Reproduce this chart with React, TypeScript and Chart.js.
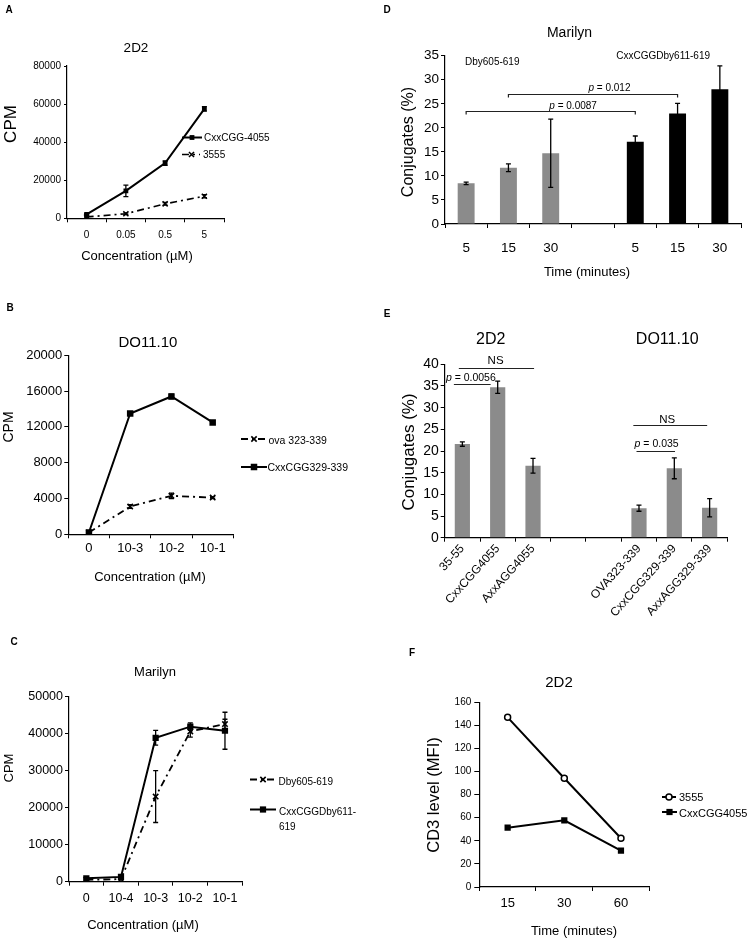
import React, { useEffect, useRef } from "react";
import { Chart, registerables } from "chart.js";

Chart.register(...registerables);

const FONT = "'Liberation Sans', Arial, Helvetica, sans-serif";

// ---------------- Panel A (2D2, CPM) ----------------
const aCategories = ["0", "0.05", "0.5", "5"];
const aCxxCGG4055 = [2100, 14400, 29000, 57500];
const aCxxCGG4055Err = [400, 3000, 1200, 1200];
const a3555 = [700, 2400, 7600, 11600];
const a3555Err = [300, 500, 700, 800];

// ---------------- Panel B (DO11.10, CPM) ----------------
const bCategories = ["0", "10-3", "10-2", "10-1"];
const bOva = [200, 3100, 4300, 4100];
const bOvaErr = [100, 200, 300, 100];
const bCxxCGG329 = [200, 13500, 15400, 12500];
const bCxxCGG329Err = [100, 200, 250, 200];

// ---------------- Panel C (Marilyn, CPM) ----------------
const cCategories = ["0", "10-4", "10-3", "10-2", "10-1"];
const cDby = [500, 700, 23000, 40600, 42600];
const cDbyErr = [200, 200, 7000, 1500, 1300];
const cCxxDby = [900, 1300, 38900, 41900, 40800];
const cCxxDbyErr = [300, 300, 2000, 1000, 5000];

// ---------------- Panel D (Marilyn, conjugates) ----------------
const dCategories = ["5", "15", "30", "", "5", "15", "30"];
const dDby = [8.45, 11.7, 14.7, null, null, null, null];
const dDbyErr = [0.25, 0.8, 7.1, 0, 0, 0, 0];
const dCxxDby = [null, null, null, null, 17.1, 23.0, 28.0];
const dCxxDbyErr = [0, 0, 0, 0, 1.2, 2.1, 4.9];
const dBrackets = [
  { from: 0, to: 4, value: 23.5, label: "p = 0.0087" },
  { from: 1, to: 5, value: 27.1, label: "p = 0.012" },
];

// ---------------- Panel E (conjugates) ----------------
const eCategories = ["35-55", "CxxCGG4055", "AxxAGG4055", "", "", "OVA323-339", "CxxCGG329-339", "AxxAGG329-339"];
const eValues = [21.6, 34.7, 16.6, null, null, 6.8, 16.0, 6.9];
const eErr = [0.5, 1.4, 1.7, 0, 0, 0.7, 2.4, 2.1];
const eBrackets = [
  { from: -0.1, to: 2.03, value: 39.2, label: "NS" },
  { from: -0.24, to: 0.8, value: 35.4, label: "p = 0.0056" },
  { from: 4.84, to: 6.93, value: 26.0, label: "NS" },
  { from: 4.93, to: 6.02, value: 20.1, label: "p = 0.035" },
];

// ---------------- Panel F (CD3 level) ----------------
const fCategories = ["15", "30", "60"];
const f3555 = [147, 94.2, 42.2];
const fCxxCGG4055 = [51.4, 57.8, 31.5];

// ================= helpers =================
type Frame = { x: number; y: number; w: number; h: number };
type Area = { L: number; T: number; R: number; B: number };

function fnt(size: number, bold = false, italic = false) {
  return `${italic ? "italic " : ""}${bold ? "bold " : ""}${size}px ${FONT}`;
}

function drawText(ctx: CanvasRenderingContext2D, t: any) {
  ctx.save();
  ctx.fillStyle = "#000";
  ctx.font = fnt(t.s, !!t.b);
  ctx.textBaseline = "middle";
  ctx.textAlign = t.align || "center";
  ctx.translate(t.x, t.y);
  if (t.r) ctx.rotate((t.r * Math.PI) / 180);
  ctx.fillText(t.t, 0, 0);
  ctx.restore();
}

function drawPText(ctx: CanvasRenderingContext2D, label: string, x: number, y: number, size: number) {
  ctx.save();
  ctx.fillStyle = "#000";
  ctx.textBaseline = "middle";
  ctx.textAlign = "left";
  const parts: [string, boolean][] = label.startsWith("p ") ? [["p", true], [label.slice(1), false]] : [[label, false]];
  let total = 0;
  parts.forEach(([s, it]) => {
    ctx.font = fnt(size, false, it);
    total += ctx.measureText(s).width;
  });
  let cx = x - total / 2;
  parts.forEach(([s, it]) => {
    ctx.font = fnt(size, false, it);
    ctx.fillText(s, cx, y);
    cx += ctx.measureText(s).width;
  });
  ctx.restore();
}

function drawMarker(ctx: CanvasRenderingContext2D, ds: any, x: number, y: number) {
  const style = ds.pointStyle || "circle";
  const r = ds.pointRadius ?? 3;
  ctx.save();
  ctx.setLineDash([]);
  ctx.lineWidth = ds.pointBorderWidth ?? 1;
  ctx.strokeStyle = ds.pointBorderColor || "#000";
  ctx.fillStyle = ds.pointBackgroundColor || "#000";
  if (style === "rect") {
    const h = r * Math.SQRT1_2;
    ctx.fillRect(x - h, y - h, 2 * h, 2 * h);
  } else if (style === "crossRot") {
    const h = r * Math.SQRT1_2;
    ctx.beginPath();
    ctx.moveTo(x - h, y - h);
    ctx.lineTo(x + h, y + h);
    ctx.moveTo(x + h, y - h);
    ctx.lineTo(x - h, y + h);
    ctx.stroke();
  } else {
    ctx.beginPath();
    ctx.arc(x, y, r, 0, Math.PI * 2);
    ctx.fill();
    ctx.stroke();
  }
  ctx.restore();
}

function makeOverlay(frame: Frame, cfg: any) {
  return {
    id: "overlay",
    afterDatasetsDraw(chart: any) {
      const ctx: CanvasRenderingContext2D = chart.ctx;
      chart.data.datasets.forEach((ds: any, di: number) => {
        if (!ds.errors) return;
        const meta = chart.getDatasetMeta(di);
        const ys = chart.scales[meta.yAxisID];
        meta.data.forEach((el: any, i: number) => {
          const v = ds.data[i];
          const e = ds.errors[i];
          if (v == null || !e) return;
          const x = el.x;
          const y1 = ys.getPixelForValue(v + e);
          const y2 = ys.getPixelForValue(v - e);
          const c = ds.errorCap ?? 3;
          ctx.save();
          ctx.strokeStyle = "#000";
          ctx.lineWidth = ds.errorWidth ?? 1.3;
          ctx.setLineDash([]);
          ctx.beginPath();
          ctx.moveTo(x, y1);
          ctx.lineTo(x, y2);
          ctx.moveTo(x - c, y1);
          ctx.lineTo(x + c, y1);
          ctx.moveTo(x - c, y2);
          ctx.lineTo(x + c, y2);
          ctx.stroke();
          ctx.restore();
        });
      });
    },
    afterDraw(chart: any) {
      const ctx: CanvasRenderingContext2D = chart.ctx;
      const xs = chart.scales.x;
      const ys = chart.scales.y;
      (cfg.brackets || []).forEach((b: any, i: number) => {
        const st = cfg.bracketStyles[i];
        const x1 = xs.getPixelForValue(b.from);
        const x2 = xs.getPixelForValue(b.to);
        const y = Math.round(ys.getPixelForValue(b.value)) + 0.5;
        ctx.save();
        ctx.strokeStyle = "#222";
        ctx.lineWidth = 1.2;
        ctx.beginPath();
        ctx.moveTo(x1, y + st.drop);
        ctx.lineTo(x1, y);
        ctx.lineTo(x2, y);
        ctx.lineTo(x2, y + st.drop);
        ctx.stroke();
        ctx.restore();
        drawPText(ctx, b.label, xs.getPixelForValue(st.labelAt), y - st.dy, st.size);
      });
      ctx.save();
      ctx.translate(-frame.x, -frame.y);
      (cfg.texts || []).forEach((t: any) => drawText(ctx, t));
      (cfg.legend || []).forEach((l: any) => {
        const ds = chart.data.datasets[l.ds];
        ctx.save();
        ctx.strokeStyle = ds.borderColor || "#000";
        ctx.lineWidth = ds.borderWidth ?? 2;
        ctx.setLineDash(ds.borderDash || []);
        ctx.beginPath();
        ctx.moveTo(l.x1, l.y);
        ctx.lineTo(l.x2, l.y);
        ctx.stroke();
        ctx.restore();
        drawMarker(ctx, ds, l.mx, l.y);
        const lines = l.lines || [ds.label];
        lines.forEach((s: string, k: number) =>
          drawText(ctx, { t: s, x: l.tx, y: l.ty + k * (l.lh || 14), s: l.s, align: "left" })
        );
      });
      ctx.restore();
    },
  };
}

function yScale(max: number, step: number, size: number, tickLen: number, pad: number, width: number) {
  return {
    min: 0,
    max,
    ticks: {
      stepSize: step,
      color: "#000",
      font: { size, family: FONT },
      padding: pad,
      callback: (v: any) => String(v),
    },
    grid: { drawOnChartArea: false, drawTicks: true, tickLength: tickLen, color: "#000", lineWidth: 1 },
    border: { display: true, color: "#000", width: 1.2 },
    afterFit: (s: any) => {
      s.width = width;
    },
  };
}

function xScale(size: number, tickLen: number, labelCenter: number, area: Area, height: number, rot = 0) {
  const pad = rot ? labelCenter : labelCenter - area.B - tickLen - (size * 1.2) / 2;
  return {
    type: "category",
    offset: true,
    ticks: {
      color: "#000",
      font: { size, family: FONT },
      padding: pad,
      autoSkip: false,
      maxRotation: rot,
      minRotation: rot,
    },
    grid: { offset: true, drawOnChartArea: false, drawTicks: true, tickLength: tickLen, color: "#000", lineWidth: 1 },
    border: { display: true, color: "#000", width: 1.2 },
    afterFit: (s: any) => {
      s.height = height;
    },
  };
}

function baseOptions(frame: Frame, area: Area, yW: number, xH: number, y: any, x: any) {
  return {
    responsive: false,
    maintainAspectRatio: false,
    animation: false,
    events: [],
    layout: {
      padding: {
        left: area.L - frame.x - yW,
        right: frame.x + frame.w - area.R,
        top: area.T - frame.y,
        bottom: frame.y + frame.h - area.B - xH,
      },
    },
    plugins: { legend: { display: false }, tooltip: { enabled: false }, title: { display: false } },
    scales: { x, y },
  };
}

// ================= panel configs =================
function configA() {
  const frame = { x: 0, y: 0, w: 374, h: 272 };
  const area = { L: 67, T: 66, R: 224, B: 218.3 };
  return {
    frame,
    config: {
      type: "line",
      data: {
        labels: aCategories,
        datasets: [
          {
            label: "CxxCGG-4055", data: aCxxCGG4055, errors: aCxxCGG4055Err, errorCap: 2.5,
            borderColor: "#000", borderWidth: 2, pointStyle: "rect", pointRadius: 3.4,
            pointBackgroundColor: "#000", pointBorderColor: "#000", pointBorderWidth: 0,
          },
          {
            label: "3555", data: a3555, errors: a3555Err, errorCap: 2.5,
            borderColor: "#000", borderWidth: 1.7, borderDash: [7, 4, 2, 4], pointStyle: "crossRot", pointRadius: 3.6,
            pointBorderColor: "#000", pointBorderWidth: 1.5, pointBackgroundColor: "#000",
          },
        ],
      },
      options: baseOptions(frame, area, 50, 30, yScale(80000, 20000, 10, 3, 3, 50), xScale(10, 4, 235, area, 30)),
      plugins: [
        makeOverlay(frame, {
          texts: [
            { t: "A", x: 9, y: 10, s: 10, b: true },
            { t: "2D2", x: 136, y: 48, s: 13.5 },
            { t: "CPM", x: 11.5, y: 124, s: 17, r: -90 },
            { t: "Concentration (µM)", x: 137, y: 256.5, s: 13 },
          ],
          legend: [
            { ds: 0, x1: 182, x2: 202, y: 137.5, mx: 192, tx: 204, ty: 138, s: 10 },
            { ds: 1, x1: 182, x2: 200, y: 154.5, mx: 191.5, tx: 203, ty: 155, s: 10 },
          ],
        }),
      ],
    },
  };
}

function configB() {
  const frame = { x: 0, y: 280, w: 374, h: 305 };
  const area = { L: 68.3, T: 355.3, R: 233.3, B: 534.3 };
  return {
    frame,
    config: {
      type: "line",
      data: {
        labels: bCategories,
        datasets: [
          {
            label: "ova 323-339", data: bOva, errors: bOvaErr, errorCap: 2.5,
            borderColor: "#000", borderWidth: 1.8, borderDash: [7, 4, 2, 4], pointStyle: "crossRot", pointRadius: 3.8,
            pointBorderColor: "#000", pointBorderWidth: 1.6, pointBackgroundColor: "#000",
          },
          {
            label: "CxxCGG329-339", data: bCxxCGG329, errors: bCxxCGG329Err, errorCap: 2.5,
            borderColor: "#000", borderWidth: 2, pointStyle: "rect", pointRadius: 4.6,
            pointBackgroundColor: "#000", pointBorderColor: "#000", pointBorderWidth: 0,
          },
        ],
      },
      options: baseOptions(frame, area, 55, 25, yScale(20000, 4000, 13, 4, 2, 55), xScale(13, 4, 548.3, area, 25)),
      plugins: [
        makeOverlay(frame, {
          texts: [
            { t: "B", x: 10, y: 308, s: 10, b: true },
            { t: "DO11.10", x: 148, y: 343, s: 15 },
            { t: "CPM", x: 9.5, y: 427, s: 14, r: -90 },
            { t: "Concentration (µM)", x: 150, y: 577, s: 13 },
          ],
          legend: [
            { ds: 0, x1: 241, x2: 268, y: 439, mx: 254, tx: 268.5, ty: 441.5, s: 10.5 },
            { ds: 1, x1: 241, x2: 267, y: 467, mx: 254, tx: 267.5, ty: 468, s: 10.5 },
          ],
        }),
      ],
    },
  };
}

function configC() {
  const frame = { x: 0, y: 585, w: 374, h: 357 };
  const area = { L: 69, T: 696.7, R: 242.3, B: 881.7 };
  return {
    frame,
    config: {
      type: "line",
      data: {
        labels: cCategories,
        datasets: [
          {
            label: "Dby605-619", data: cDby, errors: cDbyErr, errorCap: 2.5,
            borderColor: "#000", borderWidth: 1.8, borderDash: [7, 4, 2, 4], pointStyle: "crossRot", pointRadius: 3.8,
            pointBorderColor: "#000", pointBorderWidth: 1.6, pointBackgroundColor: "#000",
          },
          {
            label: "CxxCGGDby611-619", data: cCxxDby, errors: cCxxDbyErr, errorCap: 2.5,
            borderColor: "#000", borderWidth: 2, pointStyle: "rect", pointRadius: 4.4,
            pointBackgroundColor: "#000", pointBorderColor: "#000", pointBorderWidth: 0,
          },
        ],
      },
      options: baseOptions(frame, area, 55, 30, yScale(50000, 10000, 12.5, 4, 2, 55), xScale(12.5, 4, 899, area, 30)),
      plugins: [
        makeOverlay(frame, {
          texts: [
            { t: "C", x: 14, y: 642, s: 10, b: true },
            { t: "Marilyn", x: 155, y: 672, s: 13 },
            { t: "CPM", x: 9.5, y: 768, s: 13, r: -90 },
            { t: "Concentration (µM)", x: 143, y: 925.7, s: 13 },
          ],
          legend: [
            { ds: 0, x1: 250, x2: 277, y: 779.5, mx: 263, tx: 278.5, ty: 782, s: 10 },
            { ds: 1, x1: 250, x2: 276, y: 809.5, mx: 263, tx: 279, ty: 812.5, s: 10, lines: ["CxxCGGDby611-", "619"], lh: 14.5 },
          ],
        }),
      ],
    },
  };
}

function configD() {
  const frame = { x: 374, y: 0, w: 374, h: 290 };
  const area = { L: 445, T: 55.7, R: 741, B: 224 };
  return {
    frame,
    config: {
      type: "bar",
      data: {
        labels: dCategories,
        datasets: [
          {
            label: "Dby605-619", data: dDby, errors: dDbyErr, errorCap: 2.5,
            backgroundColor: "#8b8b8b", grouped: false, barPercentage: 0.4, categoryPercentage: 1,
          },
          {
            label: "CxxCGGDby611-619", data: dCxxDby, errors: dCxxDbyErr, errorCap: 2.5,
            backgroundColor: "#000", grouped: false, barPercentage: 0.4, categoryPercentage: 1,
          },
        ],
      },
      options: baseOptions(frame, area, 55, 40, yScale(35, 5, 13.5, 4, 2, 55), xScale(13.5, 4, 248.3, area, 40)),
      plugins: [
        makeOverlay(frame, {
          brackets: dBrackets,
          bracketStyles: [
            { labelAt: 2.53, dy: 5, drop: 3, size: 10 },
            { labelAt: 3.39, dy: 6.4, drop: 3, size: 10 },
          ],
          texts: [
            { t: "D", x: 387, y: 10, s: 10, b: true },
            { t: "Marilyn", x: 569.5, y: 33.3, s: 14 },
            { t: "Conjugates (%)", x: 409, y: 142, s: 16, r: -90 },
            { t: "Time (minutes)", x: 587, y: 272.3, s: 13 },
            { t: "Dby605-619", x: 465, y: 62, s: 10, align: "left" },
            { t: "CxxCGGDby611-619", x: 616.3, y: 56, s: 10, align: "left" },
          ],
        }),
      ],
    },
  };
}

function configE() {
  const frame = { x: 374, y: 295, w: 374, h: 345 };
  const area = { L: 444.7, T: 364.3, R: 727.3, B: 537.7 };
  return {
    frame,
    config: {
      type: "bar",
      data: {
        labels: eCategories,
        datasets: [
          {
            label: "Conjugates", data: eValues, errors: eErr, errorCap: 2.5,
            backgroundColor: "#8b8b8b", barPercentage: 0.43, categoryPercentage: 1,
          },
        ],
      },
      options: baseOptions(frame, area, 55, 90, yScale(40, 5, 14, 4, 2, 55), xScale(12, 4, 0, area, 90, 48)),
      plugins: [
        makeOverlay(frame, {
          brackets: eBrackets,
          bracketStyles: [
            { labelAt: 0.94, dy: 7.7, drop: 0, size: 11.5 },
            { labelAt: 0.24, dy: 6.7, drop: 0, size: 10.5 },
            { labelAt: 5.8, dy: 5.7, drop: 0, size: 11.5 },
            { labelAt: 5.5, dy: 7.4, drop: 0, size: 10.5 },
          ],
          texts: [
            { t: "E", x: 387, y: 314, s: 10, b: true },
            { t: "2D2", x: 490.7, y: 340, s: 16 },
            { t: "DO11.10", x: 667.3, y: 340, s: 16 },
            { t: "Conjugates (%)", x: 409, y: 452, s: 17, r: -90 },
          ],
        }),
      ],
    },
  };
}

function configF() {
  const frame = { x: 374, y: 640, w: 374, h: 302 };
  const area = { L: 479.3, T: 702.3, R: 649.3, B: 887 };
  return {
    frame,
    config: {
      type: "line",
      data: {
        labels: fCategories,
        datasets: [
          {
            label: "3555", data: f3555,
            borderColor: "#000", borderWidth: 2, pointStyle: "circle", pointRadius: 3,
            pointBackgroundColor: "#fff", pointBorderColor: "#000", pointBorderWidth: 1.5,
          },
          {
            label: "CxxCGG4055", data: fCxxCGG4055,
            borderColor: "#000", borderWidth: 2, pointStyle: "rect", pointRadius: 4.4,
            pointBackgroundColor: "#000", pointBorderColor: "#000", pointBorderWidth: 0,
          },
        ],
      },
      options: baseOptions(frame, area, 55, 30, yScale(160, 20, 10, 5, 3, 55), xScale(13, 4, 903.3, area, 30)),
      plugins: [
        makeOverlay(frame, {
          texts: [
            { t: "F", x: 412, y: 653, s: 10, b: true },
            { t: "2D2", x: 559, y: 683.3, s: 15 },
            { t: "CD3 level (MFI)", x: 434, y: 795, s: 16.5, r: -90 },
            { t: "Time (minutes)", x: 574, y: 931.7, s: 13 },
          ],
          legend: [
            { ds: 0, x1: 662, x2: 676, y: 797, mx: 669, tx: 679, ty: 798, s: 11 },
            { ds: 1, x1: 662, x2: 677, y: 812, mx: 669.5, tx: 679, ty: 813.5, s: 11 },
          ],
        }),
      ],
    },
  };
}

function Panel({ make }: { make: () => { frame: Frame; config: any } }) {
  const ref = useRef<HTMLCanvasElement | null>(null);
  const { frame } = make();
  useEffect(() => {
    const { config } = make();
    const chart = new Chart(ref.current as HTMLCanvasElement, config as any);
    return () => chart.destroy();
  }, []);
  return (
    <canvas
      ref={ref}
      width={frame.w}
      height={frame.h}
      style={{ position: "absolute", left: frame.x, top: frame.y, width: frame.w, height: frame.h }}
    />
  );
}

export default function App() {
  return (
    <div style={{ position: "absolute", left: 0, top: 0, width: 748, height: 942, background: "#fff", overflow: "hidden" }}>
      <Panel make={configA} />
      <Panel make={configB} />
      <Panel make={configC} />
      <Panel make={configD} />
      <Panel make={configE} />
      <Panel make={configF} />
    </div>
  );
}
